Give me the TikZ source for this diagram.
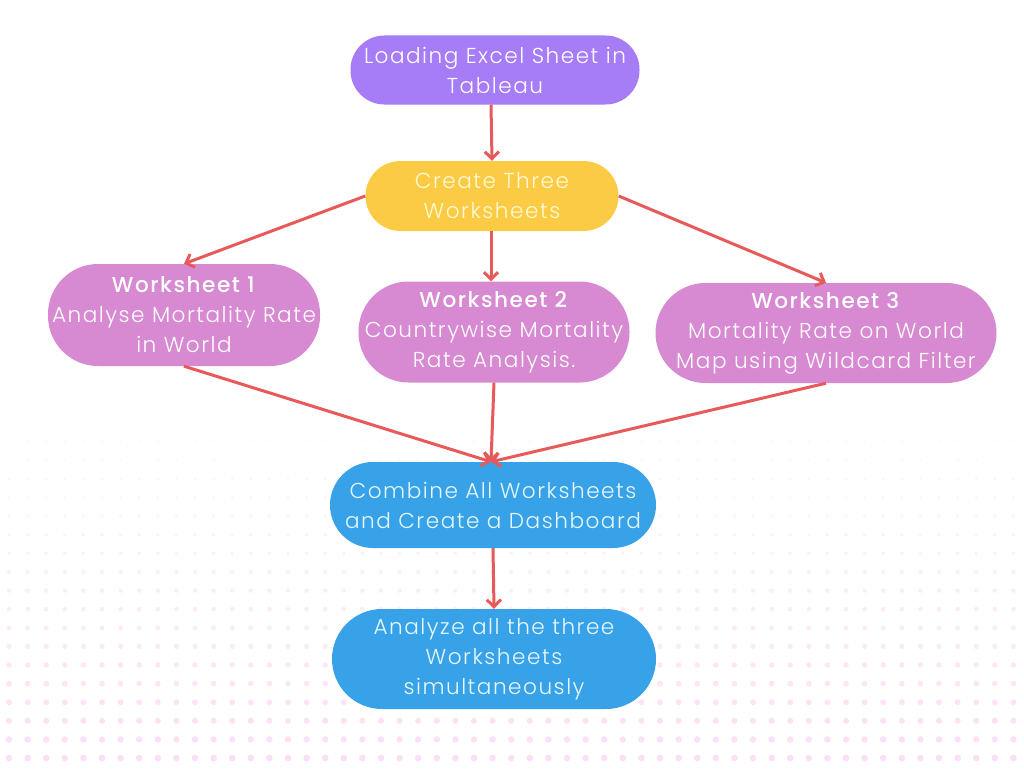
\documentclass[tikz,border=0pt]{standalone}
\usepackage{fontspec}
\setmainfont{Poppins}[UprightFont=* Light, BoldFont=* Medium, LetterSpace=7]
\usetikzlibrary{arrows.meta}
\definecolor{cpurple}{HTML}{A67CF7}
\definecolor{cyellow}{HTML}{FBCB46}
\definecolor{corchid}{HTML}{D78AD2}
\definecolor{cblue}{HTML}{38A2E8}
\definecolor{cred}{HTML}{E85A5A}
\definecolor{tyellow}{HTML}{FFFAD2}
\definecolor{tblue}{HTML}{E6F7FF}
\definecolor{dotpink}{HTML}{FBDDF5}
\tikzset{
  pill/.style={rectangle, align=center, inner sep=0pt,
    font=\fontsize{21.6pt}{30pt}\selectfont},
  arr/.style={draw=cred, line width=3pt, -{Straight Barb[length=7pt,width=14pt,line width=3pt]}},
}
\begin{document}
\begin{tikzpicture}[x=1pt,y=-1pt]
\useasboundingbox (0,0) rectangle (1024,768);
\fill[white] (0,0) rectangle (1024,768);
% dotted background
\foreach \i in {0,...,20}{
  \pgfmathsetmacro\yy{386+18.6*\i}
  \pgfmathsetmacro\rr{0.9+2.4*\i/20}
  \pgfmathtruncatemacro\cc{8+87*\i/20}
  \foreach \j in {0,...,55}{
    \pgfmathsetmacro\xx{9+18.6*\j}
    \fill[dotpink!\cc!white] (\xx,\yy) circle[radius=\rr];
  }
}
% nodes
\node[pill, fill=cpurple, text=white, minimum width=289pt, minimum height=69pt, rounded corners=34pt] (load) at (495,70) {Loading Excel Sheet in\\Tableau};
\node[pill, fill=cyellow, text=tyellow, minimum width=253pt, minimum height=70pt, rounded corners=35pt] (create) at (492,196) {Create Three\\Worksheets};
\node[pill, fill=corchid, text=white, minimum width=272pt, minimum height=102pt, rounded corners=50pt] (ws1) at (184,315) {\textbf{Worksheet 1}\\Analyse Mortality Rate\\in World};
\node[pill, fill=corchid, text=white, minimum width=271pt, minimum height=101pt, rounded corners=50pt] (ws2) at (494,332) {\textbf{Worksheet 2}\\Countrywise Mortality\\Rate Analysis.};
\node[pill, fill=corchid, text=white, minimum width=341pt, minimum height=100pt, rounded corners=50pt] (ws3) at (826,333) {\textbf{Worksheet 3}\\Mortality Rate on World\\Map using Wildcard Filter};
\node[pill, fill=cblue, text=tblue, minimum width=326pt, minimum height=86pt, rounded corners=43pt] (comb) at (493,505) {Combine All Worksheets\\and Create a Dashboard};
\node[pill, fill=cblue, text=tblue, minimum width=324pt, minimum height=100pt, rounded corners=50pt] (anal) at (494,659) {Analyze all the three\\Worksheets\\simultaneously};
% connectors
\coordinate (cT) at ([xshift=-2pt]comb.north);
\draw[arr] ([xshift=-4pt]load.south) -- (create.north);
\draw[arr] (create.west) -- (ws1.north);
\draw[arr] ([xshift=-1pt]create.south) -- ([xshift=-3pt]ws2.north);
\draw[arr] (create.east) -- (ws3.north);
\draw[arr] (ws1.south) -- (cT);
\draw[arr] (ws2.south) -- (cT);
\draw[arr] (ws3.south) -- (cT);
\draw[arr] (comb.south) -- (anal.north);
\end{tikzpicture}
\end{document}
